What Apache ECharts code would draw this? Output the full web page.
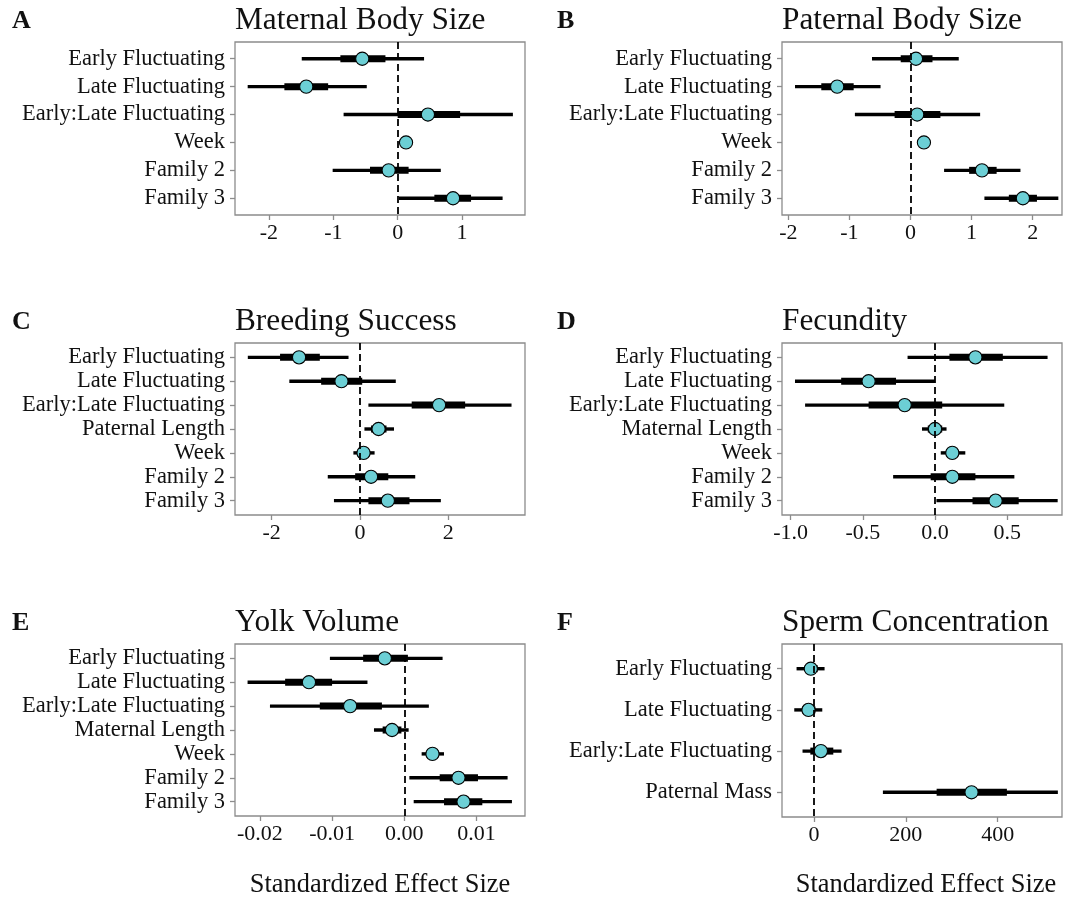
<!DOCTYPE html>
<html>
<head>
<meta charset="utf-8">
<script src="https://cdn.jsdelivr.net/npm/echarts@6/dist/echarts.min.js"></script>
<style>html,body{margin:0;padding:0;background:#fff;}#c{width:1067px;height:900px;}</style>
</head>
<body>
<div id="c"></div>
<script>
// ---- Panel A: Maternal Body Size ----
const catsA = ['Early Fluctuating','Late Fluctuating','Early:Late Fluctuating','Week','Family 2','Family 3'];
const estA  = [-0.55, -1.42, 0.47, 0.13, -0.14, 0.86];
const lo95A = [-1.49, -2.33, -0.84, 0.09, -1.01, 0.02];
const hi95A = [0.41, -0.48, 1.79, 0.17, 0.67, 1.63];
const lo50A = [-0.89, -1.76, 0.00, 0.11, -0.43, 0.57];
const hi50A = [-0.19, -1.08, 0.97, 0.15, 0.17, 1.14];
const ticksA = [-2, -1, 0, 1];

// ---- Panel B: Paternal Body Size ----
const catsB = ['Early Fluctuating','Late Fluctuating','Early:Late Fluctuating','Week','Family 2','Family 3'];
const estB  = [0.09, -1.20, 0.11, 0.22, 1.17, 1.84];
const lo95B = [-0.63, -1.89, -0.91, 0.18, 0.55, 1.21];
const hi95B = [0.79, -0.49, 1.14, 0.26, 1.80, 2.42];
const lo50B = [-0.16, -1.46, -0.26, 0.20, 0.96, 1.61];
const hi50B = [0.36, -0.93, 0.49, 0.24, 1.41, 2.07];
const ticksB = [-2, -1, 0, 1, 2];

// ---- Panel C: Breeding Success ----
const catsC = ['Early Fluctuating','Late Fluctuating','Early:Late Fluctuating','Paternal Length','Week','Family 2','Family 3'];
const estC  = [-1.38, -0.42, 1.79, 0.42, 0.08, 0.25, 0.63];
const lo95C = [-2.54, -1.60, 0.19, 0.10, -0.15, -0.73, -0.59];
const hi95C = [-0.26, 0.81, 3.43, 0.77, 0.33, 1.25, 1.83];
const lo50C = [-1.81, -0.88, 1.17, 0.25, -0.03, -0.11, 0.19];
const hi50C = [-0.91, 0.05, 2.38, 0.60, 0.19, 0.64, 1.12];
const ticksC = [-2, 0, 2];

// ---- Panel D: Fecundity ----
const catsD = ['Early Fluctuating','Late Fluctuating','Early:Late Fluctuating','Maternal Length','Week','Family 2','Family 3'];
const estD  = [0.28, -0.46, -0.21, 0.00, 0.12, 0.12, 0.42];
const lo95D = [-0.19, -0.97, -0.90, -0.09, 0.04, -0.29, 0.01];
const hi95D = [0.78, 0.00, 0.48, 0.08, 0.21, 0.55, 0.85];
const lo50D = [0.10, -0.65, -0.46, -0.05, 0.08, -0.03, 0.26];
const hi50D = [0.47, -0.27, 0.05, 0.05, 0.16, 0.28, 0.58];
const ticksD = [-1.0, -0.5, 0.0, 0.5];

// ---- Panel E: Yolk Volume ----
const catsE = ['Early Fluctuating','Late Fluctuating','Early:Late Fluctuating','Maternal Length','Week','Family 2','Family 3'];
const estE  = [-0.0027, -0.0132, -0.0075, -0.0017, 0.0039, 0.0075, 0.0082];
const lo95E = [-0.0103, -0.0217, -0.0186, -0.0042, 0.0024, 0.0007, 0.0013];
const hi95E = [0.0053, -0.0051, 0.0034, 0.0006, 0.0055, 0.0143, 0.0149];
const lo50E = [-0.0057, -0.0165, -0.0117, -0.0030, 0.0032, 0.0049, 0.0055];
const hi50E = [0.0005, -0.0100, -0.0031, -0.0004, 0.0047, 0.0102, 0.0108];
const ticksE = [-0.02, -0.01, 0.00, 0.01];

// ---- Panel F: Sperm Concentration ----
const catsF = ['Early Fluctuating','Late Fluctuating','Early:Late Fluctuating','Paternal Mass'];
const estF  = [-7, -12, 15, 343];
const lo95F = [-38, -43, -25, 150];
const hi95F = [23, 18, 60, 531];
const lo50F = [-20, -25, -8, 267];
const hi50F = [8, 3, 42, 420];
const ticksF = [0, 200, 400];

const titles = ['Maternal Body Size','Paternal Body Size','Breeding Success','Fecundity','Yolk Volume','Sperm Concentration'];
const letters = ['A','B','C','D','E','F'];
const xLabel = 'Standardized Effect Size';

const panels = [
  {cats:catsA, est:estA, lo95:lo95A, hi95:hi95A, lo50:lo50A, hi50:hi50A, ticks:ticksA, min:-2.527, max:1.978, fmt:v=>String(v),
   left:235, top:42, width:290, height:173},
  {cats:catsB, est:estB, lo95:lo95B, hi95:hi95B, lo50:lo50B, hi50:hi50B, ticks:ticksB, min:-2.103, max:2.48, fmt:v=>String(v),
   left:782, top:42, width:280, height:173},
  {cats:catsC, est:estC, lo95:lo95C, hi95:hi95C, lo50:lo50C, hi50:hi50C, ticks:ticksC, min:-2.83, max:3.735, fmt:v=>String(v),
   left:235, top:343, width:290, height:172},
  {cats:catsD, est:estD, lo95:lo95D, hi95:hi95D, lo50:lo50D, hi50:hi50D, ticks:ticksD, min:-1.060, max:0.880, fmt:v=>v.toFixed(1),
   left:782, top:343, width:280, height:172},
  {cats:catsE, est:estE, lo95:lo95E, hi95:hi95E, lo50:lo50E, hi50:hi50E, ticks:ticksE, min:-0.02344, max:0.01671, fmt:v=>v.toFixed(2),
   left:235, top:644, width:290, height:172},
  {cats:catsF, est:estF, lo95:lo95F, hi95:hi95F, lo50:lo50F, hi50:hi50F, ticks:ticksF, min:-69.7, max:540, fmt:v=>String(v),
   left:782, top:644, width:280, height:173}
];

const FONT = '"Liberation Serif", "Times New Roman", serif';
const TXT = '#111';
const BORDER = '#8c8c8c';
const POINT = '#6ccfd5';

const grids = [], xAxes = [], yAxes = [], series = [], graphics = [];

panels.forEach((p, i) => {
  grids.push({left:p.left, top:p.top, width:p.width, height:p.height, show:true,
    borderColor:BORDER, borderWidth:1.3, backgroundColor:'#fff', containLabel:false});
  xAxes.push({gridIndex:i, type:'value', min:p.min, max:p.max, position:'bottom',
    axisLine:{show:false, onZero:false}, splitLine:{show:false},
    axisTick:{show:true, customValues:p.ticks, length:5, lineStyle:{color:BORDER, width:1.3}},
    axisLabel:{customValues:p.ticks, formatter:p.fmt, fontFamily:FONT, fontSize:22, color:TXT, margin:7}});
  const n = p.cats.length;
  const idx = p.cats.map((c, k) => k);
  yAxes.push({gridIndex:i, type:'value', min:-0.6, max:n - 0.4, inverse:true, position:'left',
    axisLine:{show:false, onZero:false}, splitLine:{show:false},
    axisTick:{show:true, customValues:idx, length:5, lineStyle:{color:BORDER, width:1.3}},
    axisLabel:{customValues:idx, formatter:v => p.cats[Math.round(v)], fontFamily:FONT, fontSize:22.5, color:TXT, margin:10}});
  const data = p.cats.map((c, k) => [k, p.est[k], p.lo95[k], p.hi95[k], p.lo50[k], p.hi50[k]]);
  series.push({
    type:'custom', xAxisIndex:i, yAxisIndex:i, clip:false, z:2,
    encode:{x:[1,2,3,4,5], y:0},
    data:data,
    renderItem:function(params, api){
      const y = api.value(0);
      const c = api.coord([api.value(1), y]);
      const a95 = api.coord([api.value(2), y]);
      const b95 = api.coord([api.value(3), y]);
      const a50 = api.coord([api.value(4), y]);
      const b50 = api.coord([api.value(5), y]);
      return {type:'group', children:[
        {type:'line', shape:{x1:a95[0], y1:a95[1], x2:b95[0], y2:b95[1]}, style:{stroke:'#000', lineWidth:3.4, lineCap:'butt'}},
        {type:'line', shape:{x1:a50[0], y1:a50[1], x2:b50[0], y2:b50[1]}, style:{stroke:'#000', lineWidth:7, lineCap:'butt'}},
        {type:'circle', shape:{cx:c[0], cy:c[1], r:6.6}, style:{fill:POINT, stroke:'#000', lineWidth:1.1}}
      ]};
    }
  });
  series.push({
    type:'line', xAxisIndex:i, yAxisIndex:i, data:[], z:5, silent:true,
    markLine:{silent:true, symbol:'none', animation:false, label:{show:false},
      lineStyle:{type:[7,4], color:'#000', width:1.8},
      data:[{xAxis:0}]}
  });
  const rowShift = [0, 0, 301, 301, 602, 602][i];
  const isLeft = i % 2 === 0;
  graphics.push({type:'text', x:p.left, y:20.5 + rowShift, style:{text:titles[i], font:'31.3px ' + FONT, fill:TXT, textAlign:'left', textVerticalAlign:'middle'}});
  graphics.push({type:'text', x:isLeft ? 12 : 557, y:21 + rowShift, style:{text:letters[i], font:'bold 26px ' + FONT, fill:TXT, textAlign:'left', textVerticalAlign:'middle'}});
});

graphics.push({type:'text', x:380, y:885, style:{text:xLabel, font:'26.4px ' + FONT, fill:TXT, textAlign:'center', textVerticalAlign:'middle'}});
graphics.push({type:'text', x:926, y:885, style:{text:xLabel, font:'26.4px ' + FONT, fill:TXT, textAlign:'center', textVerticalAlign:'middle'}});

const chart = echarts.init(document.getElementById('c'), null, {renderer:'canvas'});
chart.setOption({
  animation:false,
  backgroundColor:'#fff',
  grid:grids, xAxis:xAxes, yAxis:yAxes, series:series, graphic:graphics
});
</script>
</body>
</html>
